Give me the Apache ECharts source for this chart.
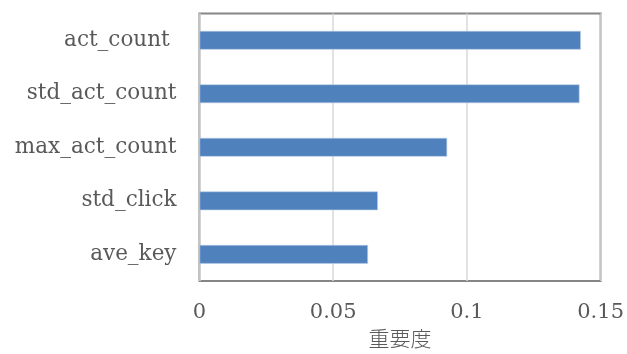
<!DOCTYPE html>
<html>
<head>
<meta charset="utf-8">
<script src="https://cdn.jsdelivr.net/npm/echarts@6/dist/echarts.min.js"></script>
<style>
  html, body { margin: 0; padding: 0; background: #fff; }
  #chart { width: 627px; height: 354px; }
</style>
</head>
<body>
<div id="chart"></div>
<script>
// Feature importance (重要度) per feature
const features = ['act_count ', 'std_act_count', 'max_act_count', 'std_click', 'ave_key'];
const importance = [0.1426, 0.1421, 0.0926, 0.0667, 0.0630];
const xTicks = [0, 0.05, 0.1, 0.15];

const labelFont = 'DejaVu Serif';
const textColor = '#595959';

const chart = echarts.init(document.getElementById('chart'), null, { renderer: 'canvas' });
chart.setOption({
  animation: false,
  grid: {
    left: 199.5, right: 25, top: 13.5, bottom: 71.5,
    show: true, borderColor: '#868686', borderWidth: 2, backgroundColor: '#fff'
  },
  xAxis: {
    type: 'value',
    min: xTicks[0],
    max: xTicks[xTicks.length - 1],
    interval: 0.05,
    name: '重要度',
    nameLocation: 'middle',
    nameGap: 46,
    nameTextStyle: { fontFamily: 'Noto Sans CJK JP', fontSize: 21, color: textColor, fontWeight: 300 },
    axisLine: { show: false },
    axisTick: { show: false },
    axisLabel: {
      margin: 21,
      fontFamily: labelFont, fontSize: 21, color: textColor,
      formatter: v => String(Number(v.toFixed(2)))
    },
    splitLine: { show: true, lineStyle: { color: '#d9d9d9', width: 1.5 } }
  },
  yAxis: {
    type: 'category',
    data: features,
    inverse: true,
    axisLine: { show: false },
    axisTick: { show: false },
    axisLabel: { margin: 23, fontFamily: labelFont, fontSize: 21.5, color: textColor }
  },
  series: [{
    type: 'bar',
    data: importance,
    barWidth: '35%',
    itemStyle: { color: '#4f81bd', borderColor: '#b9cde5', borderWidth: 0.6 }
  }]
});
</script>
</body>
</html>
